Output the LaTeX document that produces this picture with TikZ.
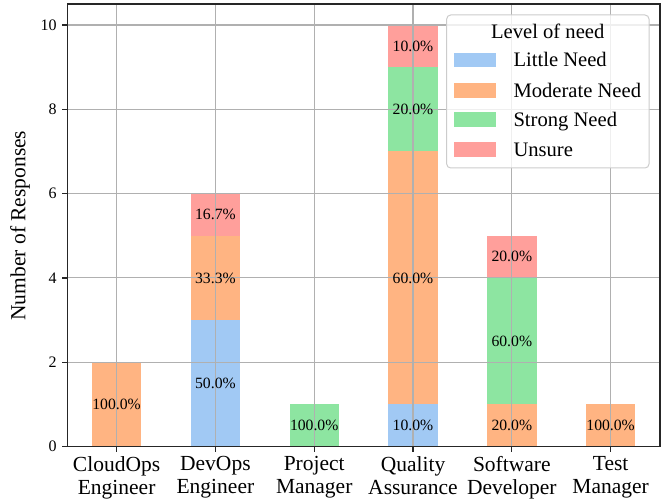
\documentclass[tikz,border=0pt]{standalone}
\usepackage{fontspec}
\setmainfont{Liberation Serif}
\definecolor{cLittle}{HTML}{A1C9F4}
\definecolor{cMod}{HTML}{FFB482}
\definecolor{cStrong}{HTML}{8DE5A1}
\definecolor{cUnsure}{HTML}{FF9F9B}
\definecolor{gridc}{HTML}{B0B0B0}
\definecolor{legedge}{HTML}{CCCCCC}
\tikzset{
  gridline/.style={draw=gridc, line width=1.1pt},
  spine/.style={draw=black!85, line width=1.4pt},
  tickmark/.style={draw=black!85, line width=1.3pt},
  barlabel/.style={inner sep=0pt, font=\fontsize{15.7}{18}\selectfont},
  xlab/.style={anchor=north, inner sep=0pt, align=center, font=\fontsize{21.5}{23.3}\selectfont},
  ylab/.style={anchor=east, inner sep=0pt, font=\fontsize{16}{18}\selectfont},
  legtext/.style={anchor=base west, inner sep=0pt, font=\fontsize{20.6}{22}\selectfont},
  legpatch/.style={minimum width=42pt, minimum height=14.6pt, inner sep=0pt},
}
\begin{document}
\begin{tikzpicture}[x=1pt,y=-1pt]
\useasboundingbox (0,0) rectangle (663,502);
\begin{scope}[shift={(116.6pt,-446.5pt)}, x=98.8pt, y=42.15pt]
  % bars
  \fill[cMod]    (-0.25,0) rectangle (0.25,2);
  \fill[cLittle] (0.75,0) rectangle (1.25,3);
  \fill[cMod]    (0.75,3) rectangle (1.25,5);
  \fill[cUnsure] (0.75,5) rectangle (1.25,6);
  \fill[cStrong] (1.75,0) rectangle (2.25,1);
  \fill[cLittle] (2.75,0) rectangle (3.25,1);
  \fill[cMod]    (2.75,1) rectangle (3.25,7);
  \fill[cStrong] (2.75,7) rectangle (3.25,9);
  \fill[cUnsure] (2.75,9) rectangle (3.25,10);
  \fill[cMod]    (3.75,0) rectangle (4.25,1);
  \fill[cStrong] (3.75,1) rectangle (4.25,4);
  \fill[cUnsure] (3.75,4) rectangle (4.25,5);
  \fill[cMod]    (4.75,0) rectangle (5.25,1);
  % grid
  \foreach \v in {0,2,4,6,8,10} \draw[gridline] (-0.5,\v) -- (5.5,\v);
  \foreach \i in {0,...,5} \draw[gridline] (\i,0) -- (\i,10.5);
  % spines
  \draw[spine] (-0.5,0) rectangle (5.5,10.5);
  % ticks and y labels
  \foreach \v in {0,2,4,6,8,10} {
    \draw[tickmark] (-0.5,\v) -- ++(-5pt,0);
    \node[ylab] (yt\v) at ([xshift=-10.5pt]-0.5,\v) {\v};
  }
  \foreach \i in {0,...,5} \draw[tickmark] (\i,0) -- ++(0,-5pt);
  % x labels
  \node[xlab] (x0) at ([yshift=-9.5pt]0,0) {CloudOps\\Engineer};
  \node[xlab] (x1) at ([yshift=-9.5pt]1,0) {DevOps\\Engineer};
  \node[xlab] (x2) at ([yshift=-9.5pt]2,0) {Project\\Manager};
  \node[xlab] (x3) at ([yshift=-9.5pt]3,0) {Quality\\Assurance};
  \node[xlab] (x4) at ([yshift=-9.5pt]4,0) {Software\\Developer};
  \node[xlab] (x5) at ([yshift=-9.5pt]5,0) {Test\\Manager};
  % bar labels
  \node[barlabel] (b0m) at (0,1) {100.0\%};
  \node[barlabel] (b1l) at (1,1.5) {50.0\%};
  \node[barlabel] (b1m) at (1,4) {33.3\%};
  \node[barlabel] (b1u) at (1,5.5) {16.7\%};
  \node[barlabel] (b2s) at (2,0.5) {100.0\%};
  \node[barlabel] (b3l) at (3,0.5) {10.0\%};
  \node[barlabel] (b3m) at (3,4) {60.0\%};
  \node[barlabel] (b3s) at (3,8) {20.0\%};
  \node[barlabel] (b3u) at (3,9.5) {10.0\%};
  \node[barlabel] (b4m) at (4,0.5) {20.0\%};
  \node[barlabel] (b4s) at (4,2.5) {60.0\%};
  \node[barlabel] (b4u) at (4,4.5) {20.0\%};
  \node[barlabel] (b5m) at (5,0.5) {100.0\%};
\end{scope}
% y axis label
\node[rotate=90, inner sep=0pt, font=\fontsize{21.5}{23}\selectfont] (ylabel) at (20,225.6) {Number of Responses};
% legend
\draw[draw=legedge, fill=white, fill opacity=0.8, line width=1pt, rounded corners=4pt] (446.7,15) rectangle (649,168);
\node[inner sep=0pt, font=\fontsize{20.6}{22}\selectfont] (legtitle) at (547.7,31.7) {Level of need};
\node[legpatch, fill=cLittle]  (p1) at (475,60) {};
\node[legpatch, fill=cMod]     (p2) at (475,90.3) {};
\node[legpatch, fill=cStrong]  (p3) at (475,119.3) {};
\node[legpatch, fill=cUnsure]  (p4) at (475,149.3) {};
\node[legtext] (t1) at (513.3,67) {Little Need};
\node[legtext] (t2) at (513.3,97.3) {Moderate Need};
\node[legtext] (t3) at (513.3,126.3) {Strong Need};
\node[legtext] (t4) at (513.3,156.3) {Unsure};
\end{tikzpicture}
\end{document}
